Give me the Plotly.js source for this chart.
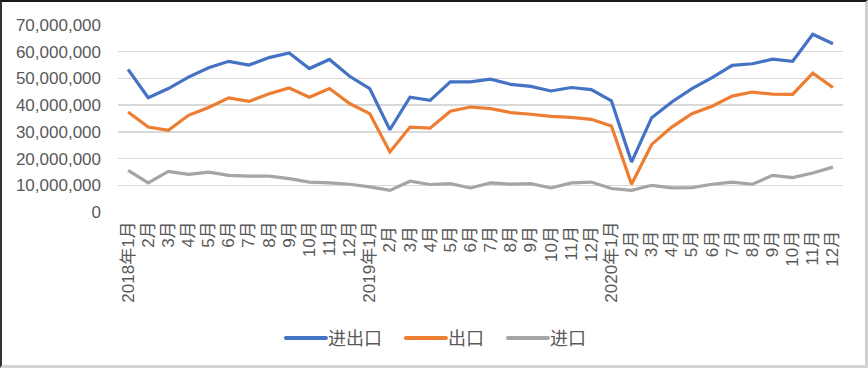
<!DOCTYPE html>
<html>
<head>
<meta charset="utf-8">
<script src="https://cdn.plot.ly/plotly-3.0.1.min.js"></script>
<style>
html,body{margin:0;padding:0;background:#fff;}
#wrap{position:relative;width:868px;height:368px;}
#chart{width:868px;height:368px;}
#frame{position:absolute;left:0;top:0;width:868px;height:368px;box-sizing:border-box;
border-top:2px solid #1a1a1a;border-left:2px solid #333;border-right:3px solid #d0d0d0;border-bottom:3px solid #d4d4d4;pointer-events:none;}
</style>
</head>
<body>
<div id="wrap"><div id="chart"></div><div id="frame"></div></div>
<script>
const categories = [
 "2018年1月","2月","3月","4月","5月","6月","7月","8月","9月","10月","11月","12月",
 "2019年1月","2月 ","3月 ","4月 ","5月 ","6月 ","7月 ","8月 ","9月 ","10月 ","11月 ","12月 ",
 "2020年1月","2月  ","3月  ","4月  ","5月  ","6月  ","7月  ","8月  ","9月  ","10月  ","11月  ","12月  "
];
const totalTrade = [
 53.4,42.8,46.2,50.5,54.0,56.4,55.0,57.8,59.5,53.7,57.1,50.8,
 46.2,30.8,43.0,41.8,48.7,48.7,49.7,47.8,47.0,45.3,46.6,45.8,
 41.6,18.7,35.3,41.2,46.2,50.3,54.9,55.5,57.2,56.4,66.5,63.0
].map(v => v * 1e6);
const exportsVal = [
 37.4,31.8,30.6,36.2,39.1,42.7,41.4,44.3,46.4,43.0,46.2,40.6,
 36.8,22.5,31.8,31.4,37.7,39.3,38.7,37.2,36.6,35.8,35.4,34.7,
 32.2,10.4,25.3,31.8,36.8,39.6,43.4,44.9,44.1,44.0,52.0,46.6
].map(v => v * 1e6);
const importsVal = [
 15.6,10.9,15.2,14.1,14.9,13.7,13.4,13.4,12.5,11.2,10.9,10.4,
 9.4,8.1,11.5,10.3,10.6,9.0,10.9,10.4,10.6,9.0,10.9,11.2,
 8.8,8.1,10.0,9.0,9.1,10.4,11.2,10.4,13.7,12.9,14.6,16.8
].map(v => v * 1e6);
const tickVals = [0,10e6,20e6,30e6,40e6,50e6,60e6,70e6];
const tickText = ["0","10,000,000","20,000,000","30,000,000","40,000,000","50,000,000","60,000,000","70,000,000"];

const mk = (name, y, color, lw) => ({
  type:'scatter', mode:'lines', name:name, x:categories, y:y,
  line:{color:color, width:3.2}, hoverinfo:'x+y', legendwidth:lw
});
const data = [
  mk('进出口', totalTrade, '#4472C4', 70),
  mk('出口', exportsVal, '#ED7D31', 52),
  mk('进口', importsVal, '#A5A5A5', 45)
];
const font = "'Liberation Sans', Arial, 'Noto Sans CJK SC', sans-serif";
const layout = {
  width:868, height:368,
  margin:{l:118, r:25, t:25, b:156, pad:0},
  paper_bgcolor:'#fff', plot_bgcolor:'#fff',
  font:{family:font, color:'#595959', size:15},
  showlegend:true,
  legend:{orientation:'h', x:0.2275, xanchor:'left', y:-0.675, yanchor:'middle',
    font:{family:font, size:18, color:'#595959'}, itemwidth:35, traceorder:'normal'},
  xaxis:{type:'category', range:[-0.5,35.5], tickangle:-90, showgrid:false, zeroline:false,
    showline:false, ticks:'', ticklabelstandoff:5, tickfont:{size:17, color:'#595959'}, automargin:false, fixedrange:true},
  yaxis:{range:[0,70e6], tickvals:tickVals, ticktext:tickText, showgrid:true, gridcolor:'#D9D9D9',
    gridwidth:1.3, zeroline:false, showline:false, ticks:'', ticklabelstandoff:16,
    tickfont:{size:17, color:'#595959'}, automargin:false, fixedrange:true}
};
Plotly.newPlot('chart', data, layout, {displayModeBar:false, staticPlot:true}).then(function(){
  document.querySelectorAll('.legend .legendlines path').forEach(function(p){
    p.setAttribute('d','M3,0h40');
    p.style.strokeWidth = '4px';
    p.style.strokeLinecap = 'round';
  });
});
</script>
</body>
</html>
